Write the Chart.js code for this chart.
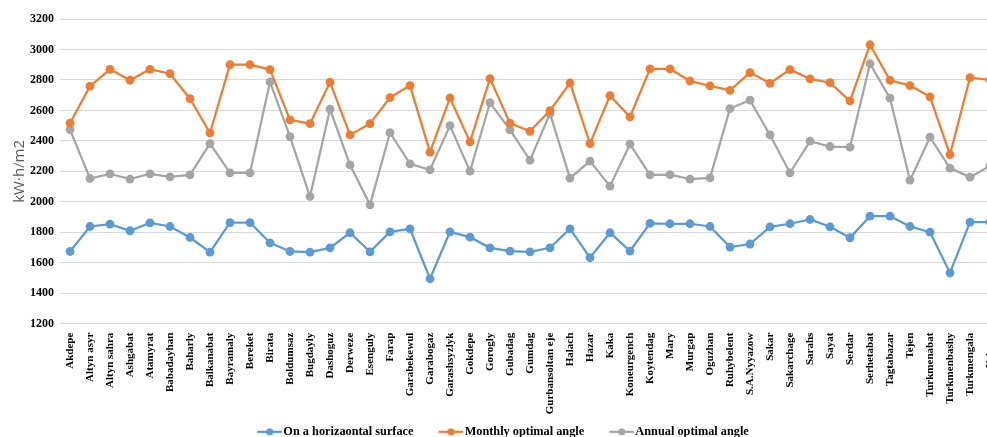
<!DOCTYPE html>
<html>
<head>
<meta charset="utf-8">
<script src="https://cdn.jsdelivr.net/npm/chart.js@4.4.1/dist/chart.umd.min.js"></script>
<style>
  html, body { margin: 0; padding: 0; background: #fff; overflow: hidden; }
  #wrap { position: relative; width: 1012px; height: 448px; }
</style>
</head>
<body>
<div id="wrap"><canvas id="solar-chart"></canvas></div>
<script>
// districts along the x axis
const districts = [
  'Akdepe', 'Altyn asyr', 'Altyn sahra', 'Ashgabat', 'Atamyrat', 'Babadayhan', 'Baharly', 'Balkanabat',
  'Bayramaly', 'Bereket', 'Birata', 'Boldumsaz', 'Bugdayly', 'Dashoguz', 'Derweze', 'Esenguly', 'Farap',
  'Garabekewul', 'Garabogaz', 'Garashsyzlyk', 'Gokdepe', 'Gorogly', 'Gubadag', 'Gumdag', 'Gurbansoltan eje',
  'Halach', 'Hazar', 'Kaka', 'Koneurgench', 'Koytendag', 'Mary', 'Murgap', 'Oguzhan', 'Ruhybelent',
  'S.A.Nyyazow', 'Sakar', 'Sakarchage', 'Sarahs', 'Sayat', 'Serdar', 'Serhetabat', 'Tagtabazar', 'Tejen',
  'Turkmenabat', 'Turkmenbashy', 'Turkmengala', 'Yoloten'
];

// kWh/m2 per year
const horizontal = [
  1674, 1838, 1854, 1810, 1862, 1838, 1766, 1670, 1864, 1864, 1731, 1674, 1670, 1698, 1797, 1672,
  1803, 1823, 1495, 1803, 1768, 1698, 1677, 1672, 1698, 1823, 1633, 1797, 1677, 1858, 1856, 1856,
  1838, 1703, 1723, 1836, 1856, 1884, 1836, 1764, 1906, 1906, 1838, 1801, 1534, 1867, 1867
];
const monthlyOptimal = [
  2516, 2759, 2870, 2798, 2870, 2841, 2677, 2452, 2900, 2900, 2868, 2538, 2513, 2785, 2439, 2513,
  2684, 2763, 2326, 2682, 2393, 2809, 2516, 2463, 2599, 2780, 2382, 2697, 2557, 2872, 2872, 2793,
  2761, 2732, 2848, 2778, 2868, 2807, 2782, 2662, 3031, 2798, 2763, 2689, 2310, 2815, 2800
];
const annualOptimal = [
  2474, 2153, 2184, 2149, 2184, 2164, 2177, 2382, 2190, 2190, 2787, 2428, 2035, 2608, 2243, 1980,
  2454, 2249, 2210, 2500, 2201, 2651, 2472, 2273, 2579, 2155, 2267, 2103, 2378, 2177, 2179, 2149,
  2157, 2612, 2667, 2439, 2190, 2398, 2363, 2359, 2907, 2680, 2142, 2424, 2221, 2162, 2236
];

const yMin = 1200;
const yMax = 3200;
const yStep = 200;

const BLUE = '#5B9BD5';
const ORANGE = '#ED7D31';
const GRAY = '#A5A5A5';

const serifBold = { family: '"Liberation Serif", "Times New Roman", serif', weight: 'bold' };

// legend marker: short line with a dot, like Excel's line-with-markers
const LEG_BOX = 35;
function legendIcon(color) {
  const c = document.createElement('canvas');
  c.width = LEG_BOX + 10;
  c.height = 10;
  const g = c.getContext('2d');
  const x0 = LEG_BOX - 15;
  g.strokeStyle = color;
  g.lineWidth = 2.25;
  g.beginPath();
  g.moveTo(x0, 5);
  g.lineTo(x0 + 25, 5);
  g.stroke();
  g.fillStyle = color;
  g.beginPath();
  g.arc(x0 + 12.5, 5, 3.6, 0, Math.PI * 2);
  g.fill();
  return c;
}

function series(label, data, color) {
  return {
    label: label,
    data: data,
    borderColor: color,
    backgroundColor: color,
    borderWidth: 2.25,
    pointRadius: 4.4,
    pointHoverRadius: 4.4,
    pointBorderWidth: 0,
    tension: 0,
    legendIcon: legendIcon(color)
  };
}

const chartEl = document.getElementById('solar-chart');

new Chart(chartEl, {
  type: 'line',
  data: {
    labels: districts,
    datasets: [
      series('On a horizaontal surface', horizontal, BLUE),
      series('Monthly optimal angle', monthlyOptimal, ORANGE),
      series('Annual optimal angle', annualOptimal, GRAY)
    ]
  },
  options: {
    responsive: true,
    maintainAspectRatio: false,
    animation: false,
    // negative left padding only nudges the centred legend to the left
    layout: { padding: { top: 19, right: 12, bottom: 0, left: -9 } },
    plugins: {
      tooltip: { enabled: false },
      legend: {
        position: 'bottom',
        labels: {
          usePointStyle: true,
          pointStyleWidth: LEG_BOX,
          padding: 10,
          color: '#000',
          font: Object.assign({ size: 12.3 }, serifBold),
          generateLabels: function (chart) {
            return chart.data.datasets.map(function (ds, i) {
              return {
                text: ds.label,
                fillStyle: ds.borderColor,
                strokeStyle: ds.borderColor,
                lineWidth: 0,
                pointStyle: ds.legendIcon,
                hidden: !chart.isDatasetVisible(i),
                datasetIndex: i
              };
            });
          }
        }
      }
    },
    scales: {
      x: {
        offset: true,
        grid: { display: false },
        border: { display: false },
        ticks: {
          autoSkip: false,
          minRotation: 90,
          maxRotation: 90,
          padding: 1,
          color: '#000',
          font: Object.assign({ size: 11 }, serifBold)
        },
        afterFit: function (scale) { scale.height = 92; }
      },
      y: {
        min: yMin,
        max: yMax,
        border: { display: false },
        grid: { color: '#d9d9d9', lineWidth: 1, drawTicks: false },
        ticks: {
          stepSize: yStep,
          padding: 6,
          color: '#000',
          font: Object.assign({ size: 12 }, serifBold),
          callback: function (v) { return String(v); }
        },
        title: {
          display: true,
          text: 'kW·h/m2',
          color: '#595959',
          padding: { top: 20, bottom: 4 },
          font: { family: '"Open Sans", sans-serif', size: 15, weight: 'normal' }
        },
        afterFit: function (scale) { scale.width = 69; }
      }
    }
  }
});
</script>
</body>
</html>
